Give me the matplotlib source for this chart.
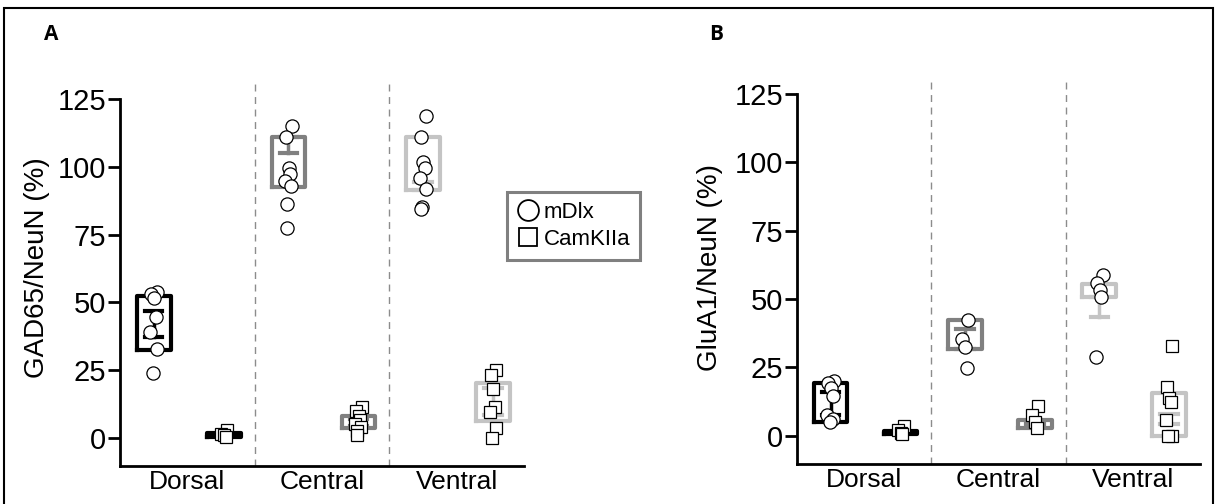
import numpy as np
import matplotlib.pyplot as plt
from matplotlib.lines import Line2D
from matplotlib.patches import Rectangle

plt.rcParams['font.family'] = ['Liberation Sans', 'DejaVu Sans']

regions = ['Dorsal', 'Central', 'Ventral']
region_colors = ['#000000', '#808080', '#c4c4c4']

# GAD65 / NeuN (%)
gad65_mdlx = [
    [54.0, 53.0, 51.5, 44.7, 39.2, 32.7, 24.1],
    [115.0, 111.0, 99.7, 97.5, 94.8, 93.0, 86.2, 77.3],
    [118.8, 110.9, 101.9, 99.5, 96.0, 91.8, 85.0, 84.3],
]
gad65_camk = [
    [3.0, 1.5, 1.0, 0.5],
    [11.3, 10.0, 8.0, 6.5, 5.0, 4.0, 2.5, 1.2],
    [25.0, 23.4, 18.0, 11.3, 9.7, 3.8, 0.0],
]
gad65_mdlx_box = [(32.4, 52.4), (92.4, 111.1), (91.4, 111.1)]
gad65_mdlx_err = [(37.1, 46.9), (105.2, 111.1), (91.4, 94.3)]
gad65_camk_box = [(0.5, 1.8), (3.6, 8.1), (6.4, 20.4)]
gad65_camk_err = [(1.1, 1.1), (4.5, 7.0), (8.5, 18.4)]

# GluA1 / NeuN (%)
glua1_mdlx = [
    [20.2, 19.3, 17.5, 14.5, 7.5, 6.0, 5.0],
    [42.3, 35.5, 32.5, 24.8],
    [58.7, 56.0, 53.5, 50.8, 29.0],
]
glua1_camk = [
    [3.5, 2.0, 1.0, 0.5],
    [10.8, 7.5, 5.0, 3.0],
    [33.0, 17.8, 14.0, 12.2, 5.8, 0.0, 0.0],
]
glua1_mdlx_box = [(5.2, 19.4), (31.8, 42.4), (50.6, 55.7)]
glua1_mdlx_err = [(7.7, 16.2), (31.8, 39.1), (43.5, 50.6)]
glua1_camk_box = [(0.6, 1.8), (2.8, 5.8), (-0.2, 15.8)]
glua1_camk_err = [(1.2, 1.2), (3.5, 5.0), (4.4, 8.0)]

yticks = [0, 25, 50, 75, 100, 125]


def draw_group(ax, x, vals, box, err, color, marker, ms):
    w = 0.125
    lo, hi = box
    ax.plot([x - w, x + w, x + w, x - w, x - w], [lo, lo, hi, hi, lo],
            color=color, lw=3, solid_joinstyle='round', zorder=2)
    e_lo, e_hi = err
    cw = 0.065
    ax.plot([x, x], [e_lo, e_hi], color=color, lw=2.5, zorder=2)
    ax.plot([x - cw, x + cw], [e_lo, e_lo], color=color, lw=3, zorder=2)
    ax.plot([x - cw, x + cw], [e_hi, e_hi], color=color, lw=3, zorder=2)
    n = len(vals)
    jit = 0.025 * np.cos(np.arange(n) * 2.4)
    ax.plot(x + jit, vals, linestyle='none', marker=marker, ms=ms,
            mfc='white', mec='black', mew=0.9, zorder=3)


def draw_panel(ax, mdlx, camk, mbox, merr, cbox, cerr, ylabel, label_x, label_y):
    for i in range(3):
        draw_group(ax, i + 0.25, mdlx[i], mbox[i], merr[i], region_colors[i], 'o', 9.5)
        draw_group(ax, i + 0.77, camk[i], cbox[i], cerr[i], region_colors[i], 's', 8.5)
    for xs in [1, 2]:
        ax.plot([xs, xs], [-10.3, 130.5], color='#8c8c8c', lw=1,
                dashes=(5, 4), clip_on=False, zorder=1)
    ax.set_xlim(0, 3)
    ax.set_ylim(-10.3, 125)
    ax.set_yticks(yticks)
    ax.set_xticks([0.5, 1.5, 2.5])
    ax.set_xticklabels(regions, fontsize=19)
    ax.tick_params(axis='x', length=0, pad=3)
    ax.tick_params(axis='y', length=9, width=2, labelsize=21, pad=1)
    for s in ['top', 'right']:
        ax.spines[s].set_visible(False)
    for s in ['left', 'bottom']:
        ax.spines[s].set_linewidth(2)
    ax.set_ylabel(ylabel, fontsize=20)
    ax.yaxis.set_label_coords(label_x, label_y)


fig = plt.figure(figsize=(12.15, 5.04), dpi=100)

ax1 = fig.add_axes([120 / 1215, 38 / 504, 404 / 1215, 367 / 504])
draw_panel(ax1, gad65_mdlx, gad65_camk, gad65_mdlx_box, gad65_mdlx_err,
           gad65_camk_box, gad65_camk_err, 'GAD65/NeuN (%)', -0.173, 0.54)

ax2 = fig.add_axes([797 / 1215, 40 / 504, 403 / 1215, 370 / 504])
draw_panel(ax2, glua1_mdlx, glua1_camk, glua1_mdlx_box, glua1_mdlx_err,
           glua1_camk_box, glua1_camk_err, 'GluA1/NeuN (%)', -0.184, 0.53)

fig.text(51 / 1215, 1 - 35 / 504, 'A', fontsize=15, fontweight='bold',
         family=['Open Sans', 'DejaVu Sans'], ha='center', va='center')
fig.text(716 / 1215, 1 - 35 / 504, 'B', fontsize=15, fontweight='bold',
         family=['Open Sans', 'DejaVu Sans'], ha='center', va='center')

handles = [
    Line2D([], [], linestyle='none', marker='o', ms=15, mfc='white', mec='black', mew=1.3),
    Line2D([], [], linestyle='none', marker='s', ms=13, mfc='white', mec='black', mew=1.3),
]
leg = fig.legend(handles, ['mDlx', 'CamKIIa'], loc='upper left',
                 bbox_to_anchor=(507 / 1215, 1 - 192 / 504), fontsize=16,
                 frameon=True, fancybox=False, framealpha=1, edgecolor='#808080',
                 handletextpad=0.2, labelspacing=0.25, borderpad=0.45,
                 handlelength=1.0, borderaxespad=0)
leg.get_frame().set_linewidth(2.2)

fig.patches.append(Rectangle((4 / 1215, -0.1), 1209 / 1215, 1.1 - 8 / 504,
                             transform=fig.transFigure, fill=False,
                             lw=1.5, ec='black'))

plt.savefig('out.png', dpi=100)
plt.close()
